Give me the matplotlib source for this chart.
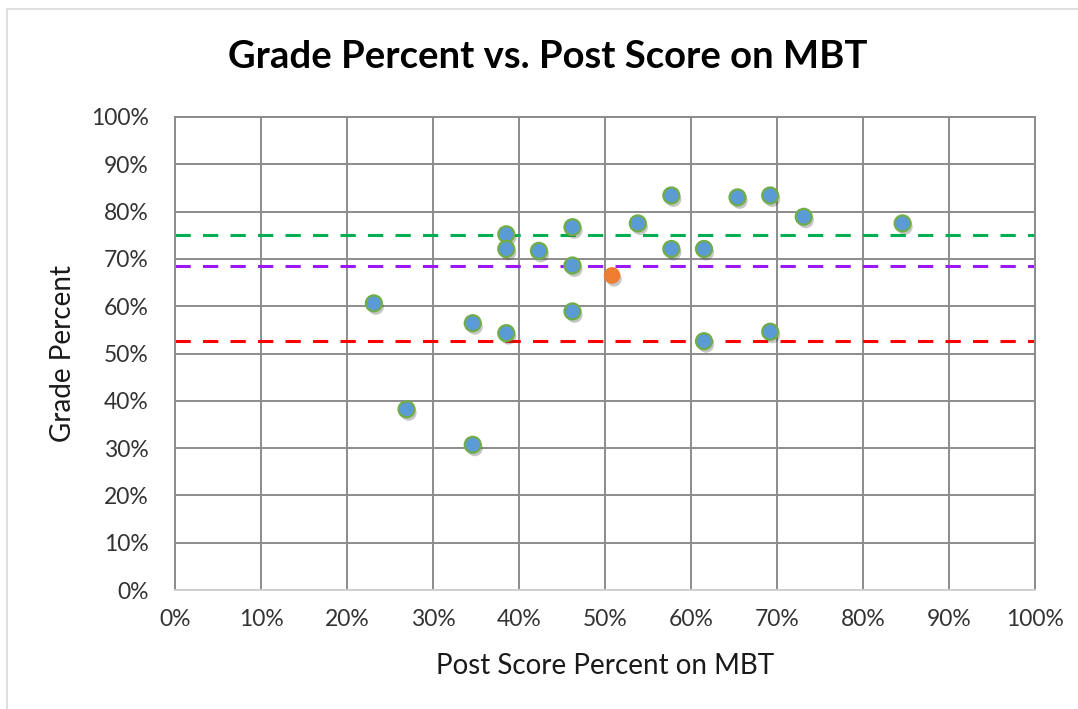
import numpy as np
import matplotlib.pyplot as plt
import matplotlib.patheffects as pe
from matplotlib.patches import Rectangle
from matplotlib.ticker import PercentFormatter

# post score on MBT (fraction) and grade percent for each student
post_score = [0.231, 0.269, 0.346, 0.346, 0.385, 0.385, 0.385, 0.423, 0.462, 0.462,
              0.462, 0.538, 0.577, 0.577, 0.615, 0.615, 0.654, 0.692, 0.731, 0.846,
              0.692]
grade = [0.606, 0.382, 0.307, 0.564, 0.752, 0.721, 0.543, 0.717, 0.767, 0.686,
         0.589, 0.775, 0.834, 0.721, 0.721, 0.526, 0.830, 0.834, 0.789, 0.775,
         0.546]

# highlighted point (orange)
mean_score = [0.508]
mean_grade = [0.665]

# reference lines
line_levels = [0.75, 0.684, 0.526]
line_colors = ["#00B050", "#9B19F5", "#FF0000"]

plt.rcParams['font.family'] = ['Lato', 'DejaVu Sans']

fig = plt.figure(figsize=(10.78, 7.09), dpi=100)
fig.patches.append(Rectangle((7 / 1078, -0.1), 1.2, (709 - 9) / 709 + 0.1,
                             transform=fig.transFigure, fill=False,
                             edgecolor="#d9d9d9", linewidth=1.2))
ax = fig.add_axes([0.1626, 0.1678, 0.7975, 0.6672])

for lvl, col in zip(line_levels, line_colors):
    ax.axhline(lvl, color=col, linestyle=(0, (5, 4)), linewidth=2.2, zorder=2)

shadow = [pe.SimplePatchShadow(offset=(1.5, -2.5), alpha=0.3, shadow_rgbFace="#444444"), pe.Normal()]
ax.plot(post_score, grade, "o", markersize=11.5, markerfacecolor="#5B9BD5",
        markeredgecolor="#70AD47", markeredgewidth=1.6, zorder=3, path_effects=shadow)
ax.plot(mean_score, mean_grade, "o", markersize=11, markerfacecolor="#ED7D31",
        markeredgecolor="#ED7D31", zorder=3, path_effects=shadow)

ax.set_xlim(0, 1)
ax.set_ylim(0, 1)
ax.set_xticks(np.arange(0, 1.01, 0.1))
ax.set_yticks(np.arange(0, 1.01, 0.1))
ax.xaxis.set_major_formatter(PercentFormatter(1.0, decimals=0))
ax.yaxis.set_major_formatter(PercentFormatter(1.0, decimals=0))
ax.grid(True, color="#8c8c8c", linewidth=1.4)
ax.set_axisbelow(True)
ax.tick_params(length=0, labelsize=16.5, colors="#333333")
ax.tick_params(axis="y", pad=19)
ax.tick_params(axis="x", pad=14)

for side in ["top", "right", "left"]:
    ax.spines[side].set_color("#8c8c8c")
    ax.spines[side].set_linewidth(1.4)
ax.spines["bottom"].set_color("#d0d0d0")
ax.spines["bottom"].set_linewidth(1.4)

ax.set_xlabel("Post Score Percent on MBT", fontsize=20, color="#1a1a1a", labelpad=16)
ax.set_ylabel("Grade Percent", fontsize=20, color="#1a1a1a", labelpad=11)
fig.suptitle("Grade Percent vs. Post Score on MBT", fontsize=27.5, fontweight="bold",
             x=0.508, y=0.919, va="center")

fig.savefig("out.png", dpi=100)
